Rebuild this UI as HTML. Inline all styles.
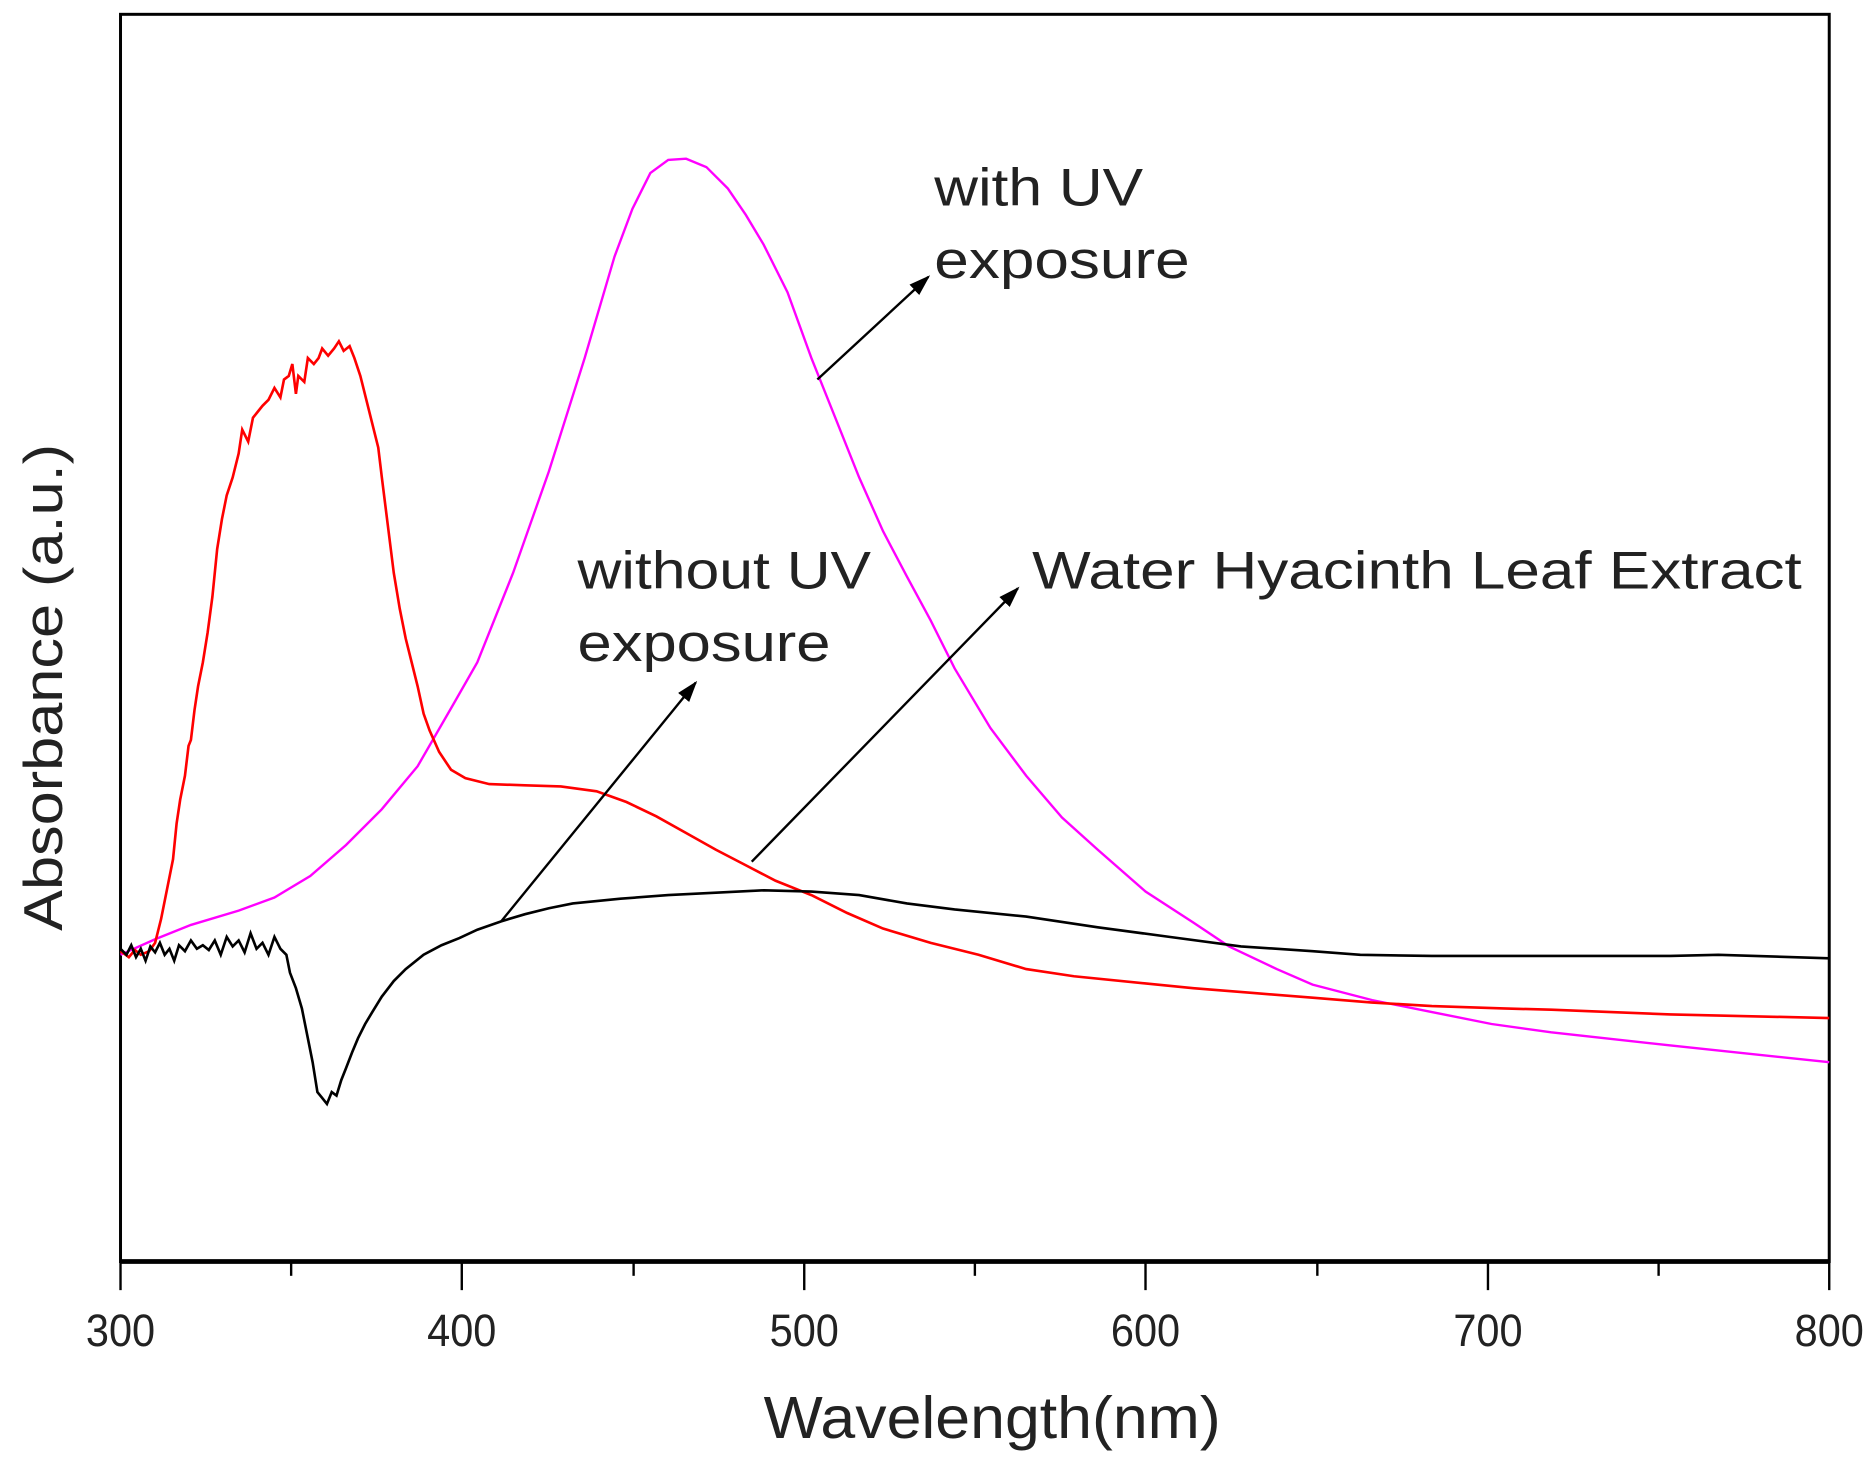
<!DOCTYPE html>
<html><head><meta charset="utf-8"><style>
html,body{margin:0;padding:0;background:#fff;}
svg{display:block;}
text{font-family:"Liberation Sans",Arial,sans-serif;fill:#222;}
</style></head><body>
<svg width="1871" height="1462" viewBox="0 0 1568 1225" preserveAspectRatio="none" xmlns="http://www.w3.org/2000/svg">
<defs>
<marker id="ah2" markerWidth="18" markerHeight="12" refX="16" refY="6" orient="auto" markerUnits="userSpaceOnUse"><path d="M0,0 L18,6 L0,12 Z" fill="#000"/></marker></defs>
<rect x="101" y="12" width="1432" height="1045" fill="none" stroke="#000" stroke-width="2.5"/>
<line x1="101" y1="1057" x2="1533" y2="1057" stroke="#000" stroke-width="4"/>
<g stroke="#000" stroke-width="2">
<line x1="101" y1="1057" x2="101" y2="1081"/><line x1="244" y1="1057" x2="244" y2="1069"/>
<line x1="387" y1="1057" x2="387" y2="1081"/><line x1="531" y1="1057" x2="531" y2="1069"/>
<line x1="674" y1="1057" x2="674" y2="1081"/><line x1="817" y1="1057" x2="817" y2="1069"/>
<line x1="960" y1="1057" x2="960" y2="1081"/><line x1="1104" y1="1057" x2="1104" y2="1069"/>
<line x1="1247" y1="1057" x2="1247" y2="1081"/><line x1="1390" y1="1057" x2="1390" y2="1069"/>
<line x1="1533" y1="1057" x2="1533" y2="1081"/>
</g>
<g font-size="38" text-anchor="middle">
<text x="101" y="1128" textLength="58" lengthAdjust="spacingAndGlyphs">300</text>
<text x="387" y="1128" textLength="58" lengthAdjust="spacingAndGlyphs">400</text>
<text x="674" y="1128" textLength="58" lengthAdjust="spacingAndGlyphs">500</text>
<text x="960" y="1128" textLength="58" lengthAdjust="spacingAndGlyphs">600</text>
<text x="1247" y="1128" textLength="58" lengthAdjust="spacingAndGlyphs">700</text>
<text x="1533" y="1128" textLength="58" lengthAdjust="spacingAndGlyphs">800</text>
</g>
<text x="640" y="1205" font-size="50" textLength="383" lengthAdjust="spacingAndGlyphs">Wavelength(nm)</text>
<text transform="translate(52,780) rotate(-90)" font-size="46" textLength="408" lengthAdjust="spacingAndGlyphs">Absorbance (a.u.)</text>
<polyline fill="none" stroke="#ff00ff" stroke-width="2" points="101,800 130,787 160,775 200,763 230,752 260,734 290,708 320,678 350,642 380,590 400,555 430,480 460,395 490,300 515,215 530,175 545,145 560,134 575,133 592,140 610,158 625,180 640,205 660,245 680,300 700,350 720,400 740,445 760,483 780,520 800,560 830,610 860,650 890,685 920,712 960,747 1000,773 1030,793 1070,812 1100,825 1150,838 1200,848 1250,858 1300,865 1400,876 1533,890"/>
<polyline fill="none" stroke="#ff0000" stroke-width="2.2" points="101,797 108,802 113,796 118,800 125,797 130,790 135,770 140,745 145,720 148,690 151,670 155,650 158,625 160,620 163,595 166,575 170,555 174,530 178,500 182,460 186,435 190,415 195,400 200,380 203,360 208,370 212,350 216,345 220,340 225,335 230,325 235,333 238,318 242,315 245,305 248,330 250,315 255,320 258,300 263,305 267,300 270,292 275,298 280,292 284,286 288,294 293,290 297,300 302,315 307,335 312,355 317,375 320,400 325,440 330,480 335,510 340,535 345,555 350,575 355,598 360,612 368,630 378,645 390,652 410,657 440,658 470,659 500,663 525,672 550,684 575,698 600,712 625,725 650,738 680,750 710,765 740,778 780,790 820,800 860,812 900,818 960,824 1000,828 1050,832 1100,836 1150,840 1200,843 1260,845 1300,846 1350,848 1400,850 1533,853"/>
<polyline fill="none" stroke="#000" stroke-width="2.2" points="101,795 106,800 110,792 114,802 118,795 122,805 126,793 130,798 134,790 138,800 142,795 146,805 150,792 155,797 160,788 165,795 170,792 175,796 180,788 185,800 190,785 195,793 200,788 205,798 210,782 215,795 220,790 225,800 230,785 235,795 240,800 243,815 248,828 253,845 258,870 262,890 266,915 270,920 274,925 278,915 282,918 286,905 290,895 295,882 300,870 306,858 312,848 320,835 330,822 340,812 355,800 370,792 385,786 400,779 420,772 440,766 460,761 480,757 520,753 560,750 600,748 640,746 680,747 720,750 760,757 800,762 860,768 920,777 980,785 1040,793 1100,797 1140,800 1200,801 1300,801 1400,801 1440,800 1533,803"/>
<g stroke="#000" stroke-width="2" fill="none">
<line x1="685" y1="318" x2="778" y2="232" marker-end="url(#ah2)"/>
<line x1="420" y1="772" x2="583" y2="572" marker-end="url(#ah2)"/>
<line x1="630" y1="722" x2="853" y2="493" marker-end="url(#ah2)"/>
</g>
<g font-size="44">
<text x="783" y="172" textLength="175" lengthAdjust="spacingAndGlyphs">with UV</text>
<text x="783" y="233" textLength="214" lengthAdjust="spacingAndGlyphs">exposure</text>
<text x="484" y="493" textLength="246" lengthAdjust="spacingAndGlyphs">without UV</text>
<text x="484" y="554" textLength="212" lengthAdjust="spacingAndGlyphs">exposure</text>
<text x="865" y="493" textLength="645" lengthAdjust="spacingAndGlyphs">Water Hyacinth Leaf Extract</text>
</g>
</svg>
</body></html>
